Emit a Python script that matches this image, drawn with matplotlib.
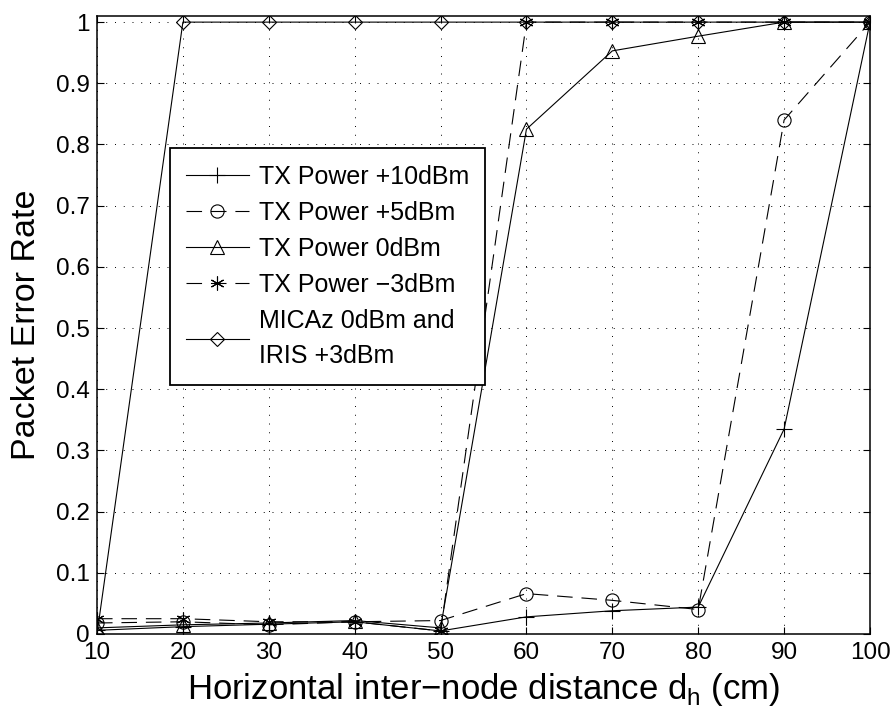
import matplotlib
matplotlib.use('Agg')
import matplotlib.pyplot as plt
import numpy as np

plt.rcParams['font.family'] = ['Liberation Sans', 'DejaVu Sans']

dist = [10, 20, 30, 40, 50, 60, 70, 80, 90, 100]

per_10dbm = [0.006, 0.012, 0.016, 0.02, 0.005, 0.028, 0.038, 0.044, 0.335, 1.0]
per_5dbm = [0.018, 0.02, 0.015, 0.02, 0.022, 0.066, 0.055, 0.04, 0.84, 1.0]
per_0dbm = [0.01, 0.015, 0.018, 0.022, 0.01, 0.825, 0.953, 0.977, 1.0, 1.0]
per_m3dbm = [0.025, 0.025, 0.02, 0.02, 0.005, 1.0, 1.0, 1.0, 1.0, 1.0]
per_micaz = [0.0, 1.0, 1.0, 1.0, 1.0, 1.0, 1.0, 1.0, 1.0, 1.0]

labels = ['TX Power +10dBm', 'TX Power +5dBm', 'TX Power 0dBm',
          'TX Power \u22123dBm', 'MICAz 0dBm and\nIRIS +3dBm']

# (values, dashed?, marker, marker size)
styles = [
    (per_10dbm, False, '+', 11),
    (per_5dbm, True, 'o', 9.5),
    (per_0dbm, False, '^', 10),
    (per_m3dbm, True, (6, 2, 0), 10),
    (per_micaz, False, 'D', 7.5),
]

fig = plt.figure(figsize=(8.94, 7.15), dpi=100)
ax = fig.add_axes([97 / 894, 81 / 715, 773 / 894, 618 / 715])

for (y, dashed, mk, ms), lab in zip(styles, labels):
    kw = dict(linestyle='--', dashes=(14, 8)) if dashed else dict(linestyle='-')
    ax.plot(dist, y, color='black', linewidth=0.8, marker=mk, markersize=ms,
            markerfacecolor='none', markeredgecolor='black', markeredgewidth=0.8,
            label=lab, **kw)

ax.set_xlim(10, 100)
ax.set_ylim(0, 1.01)
ax.set_xticks(np.arange(10, 101, 10))
ax.set_yticks(np.arange(0, 1.01, 0.1))
ax.set_yticklabels(['0', '0.1', '0.2', '0.3', '0.4', '0.5', '0.6', '0.7', '0.8', '0.9', '1'])
ax.tick_params(direction='in', top=True, right=True, labelsize=17.5, length=5, width=0.8)
ax.tick_params(axis='x', pad=6)
ax.tick_params(axis='y', pad=5)
ax.grid(True, linestyle=(0, (1, 8)), color='black', linewidth=0.7)
for s in ax.spines.values():
    s.set_linewidth(1.1)

ax.set_xlabel('Horizontal inter\u2212node distance d$_\\mathregular{h}$ (cm)', fontsize=25, labelpad=5)
ax.set_ylabel('Packet Error Rate', fontsize=24.5, labelpad=10)

leg = ax.legend(loc='upper left', bbox_to_anchor=(0.0944, 0.786), fontsize=18,
                frameon=True, fancybox=False, edgecolor='black', framealpha=1,
                handlelength=2.5, borderpad=0.65, labelspacing=0.48, handletextpad=0.4,
                borderaxespad=0)
leg.get_frame().set_linewidth(1.3)
leg.get_texts()[-1].set_linespacing(1.62)

fig.savefig('out.png', dpi=100)
